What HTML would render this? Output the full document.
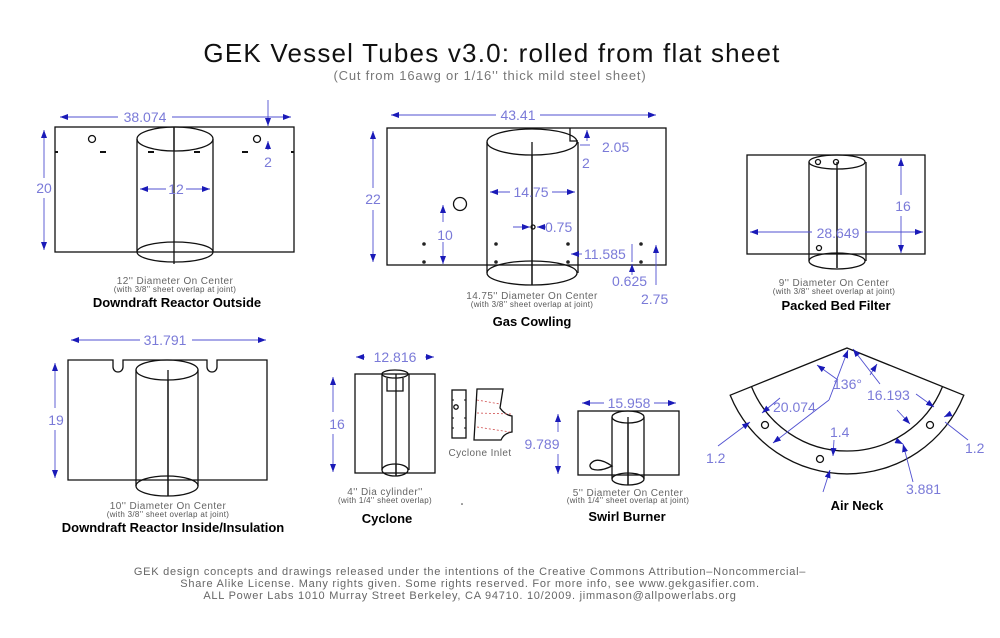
<!DOCTYPE html>
<html><head><meta charset="utf-8"><style>
html,body{margin:0;padding:0;background:#fff;width:1000px;height:638px;overflow:hidden}
svg{display:block}
text{font-family:"Liberation Sans",sans-serif}
.k{fill:none;stroke:#111;stroke-width:1.3}
.d{stroke:#5050d0;stroke-width:0.9;fill:none}
.dt{fill:#7a7ad8;font-size:14px}
.cap{fill:#666;font-size:10px;text-anchor:middle;letter-spacing:0.4px}
.cap2{fill:#555;font-size:8px;text-anchor:middle;letter-spacing:0.3px}
.ttl{fill:#000;font-size:13px;font-weight:bold;text-anchor:middle}
</style></head><body>
<svg width="1000" height="638" viewBox="0 0 1000 638" xmlns="http://www.w3.org/2000/svg">
<defs>
<marker id="a" markerWidth="8" markerHeight="6" refX="8" refY="3" orient="auto" markerUnits="userSpaceOnUse"><path d="M0,0 L8,3 L0,6 Z" fill="#1a1ab8"/></marker>
<marker id="b" markerWidth="8" markerHeight="6" refX="0" refY="3" orient="auto" markerUnits="userSpaceOnUse"><path d="M8,0 L0,3 L8,6 Z" fill="#1a1ab8"/></marker>
</defs>
<text x="492" y="62" text-anchor="middle" font-size="26" fill="#111" letter-spacing="1.2">GEK Vessel Tubes v3.0: rolled from flat sheet</text>
<text x="490" y="80" text-anchor="middle" font-size="13" fill="#777" letter-spacing="0.8">(Cut from 16awg or 1/16'' thick mild steel sheet)</text>

<!-- Panel 1 -->
<rect class="k" x="55" y="127" width="239" height="125"/>
<path class="k" d="M137,139 V252 M213,139 V252 M174,127 V264"/>
<ellipse class="k" cx="175" cy="139" rx="38" ry="12" fill="#fff"/>
<ellipse class="k" cx="175" cy="252" rx="38" ry="10"/>
<path d="M174,127 V151" class="k"/>
<circle class="k" cx="92" cy="139" r="3.5"/><circle class="k" cx="257" cy="139" r="3.5"/>
<path stroke="#111" stroke-width="2" d="M55,152h3 M100,152h6 M148,152h6 M194,152h6 M242,152h6 M291,152h3"/>
<line class="d" x1="60" y1="117" x2="118" y2="117" marker-start="url(#b)"/><line class="d" x1="172" y1="117" x2="291" y2="117" marker-end="url(#a)"/>
<text class="dt" x="145" y="122" text-anchor="middle">38.074</text>
<line class="d" x1="44" y1="130" x2="44" y2="178" marker-start="url(#b)"/><line class="d" x1="44" y1="198" x2="44" y2="250" marker-end="url(#a)"/>
<text class="dt" x="44" y="193" text-anchor="middle">20</text>
<line class="d" x1="140" y1="189" x2="166" y2="189" marker-start="url(#b)"/><line class="d" x1="186" y1="189" x2="210" y2="189" marker-end="url(#a)"/>
<text class="dt" x="176" y="194" text-anchor="middle">12</text>
<line class="d" x1="268" y1="100" x2="268" y2="126" marker-end="url(#a)"/>
<line class="d" x1="268" y1="150" x2="268" y2="141" marker-end="url(#a)"/>
<text class="dt" x="268" y="167" text-anchor="middle">2</text>
<text class="cap" x="175" y="284">12'' Diameter On Center</text>
<text class="cap2" x="175" y="292">(with 3/8'' sheet overlap at joint)</text>
<text class="ttl" x="177" y="307">Downdraft Reactor Outside</text>

<!-- Panel 2 -->
<rect class="k" x="387" y="128" width="279" height="137"/>
<path class="k" d="M487,142 V273 M578,142 V273 M532,142 V285"/>
<ellipse class="k" cx="532" cy="142" rx="45" ry="13" fill="#fff"/>
<ellipse class="k" cx="532" cy="273" rx="45" ry="12" fill="#fff"/>
<path class="k" d="M532,155 V285 M570,128 V141 H578"/>
<circle class="k" cx="460" cy="204" r="6.5"/>
<g fill="#222"><circle cx="424" cy="244" r="1.8"/><circle cx="424" cy="262" r="1.8"/><circle cx="496" cy="244" r="1.8"/><circle cx="496" cy="262" r="1.8"/><circle cx="568" cy="244" r="1.8"/><circle cx="568" cy="262" r="1.8"/><circle cx="641" cy="244" r="1.8"/><circle cx="641" cy="262" r="1.8"/></g>
<circle class="k" cx="533" cy="227" r="2"/>
<line class="d" x1="391" y1="115" x2="496" y2="115" marker-start="url(#b)"/><line class="d" x1="540" y1="115" x2="656" y2="115" marker-end="url(#a)"/>
<text class="dt" x="518" y="120" text-anchor="middle">43.41</text>
<line class="d" x1="373" y1="131" x2="373" y2="188" marker-start="url(#b)"/><line class="d" x1="373" y1="210" x2="373" y2="262" marker-end="url(#a)"/>
<text class="dt" x="373" y="204" text-anchor="middle">22</text>
<line class="d" x1="490" y1="192" x2="510" y2="192" marker-start="url(#b)"/><line class="d" x1="552" y1="192" x2="575" y2="192" marker-end="url(#a)"/>
<text class="dt" x="531" y="197" text-anchor="middle">14.75</text>
<line class="d" x1="443" y1="205" x2="443" y2="222" marker-start="url(#b)"/><line class="d" x1="443" y1="242" x2="443" y2="264" marker-end="url(#a)"/>
<text class="dt" x="445" y="240" text-anchor="middle">10</text>
<line class="d" x1="513" y1="227" x2="530" y2="227" marker-end="url(#a)"/><line class="d" x1="546" y1="227" x2="537" y2="227" marker-end="url(#a)"/>
<text class="dt" x="545" y="232">0.75</text>
<line class="d" x1="587" y1="130" x2="587" y2="141" marker-start="url(#b)"/>
<line class="d" x1="580" y1="145" x2="590" y2="145"/>
<text class="dt" x="602" y="152">2.05</text>
<text class="dt" x="582" y="168">2</text>
<line class="d" x1="571" y1="254" x2="582" y2="254" marker-start="url(#b)"/>
<text class="dt" x="584" y="259">11.585</text>
<line class="d" x1="632" y1="244" x2="632" y2="262" /><line class="d" x1="632" y1="275" x2="632" y2="264" marker-end="url(#a)"/>
<line class="d" x1="656" y1="245" x2="656" y2="262" marker-start="url(#b)"/><line class="d" x1="656" y1="262" x2="656" y2="285"/>
<text class="dt" x="612" y="286">0.625</text>
<text class="dt" x="641" y="304">2.75</text>
<text class="cap" x="532" y="299">14.75'' Diameter On Center</text>
<text class="cap2" x="532" y="307">(with 3/8'' sheet overlap at joint)</text>
<text class="ttl" x="532" y="326">Gas Cowling</text>

<!-- Panel 3 -->
<rect class="k" x="747" y="155" width="178" height="99"/>
<path class="k" d="M809,162 V261 M866,162 V261 M837,162 V268"/>
<ellipse class="k" cx="837" cy="162" rx="28" ry="7" fill="#fff"/>
<ellipse class="k" cx="837" cy="261" rx="28" ry="8" fill="#fff"/>
<path class="k" d="M837,169 V268"/>
<circle class="k" cx="818" cy="162" r="2.5"/><circle class="k" cx="836" cy="162" r="2.5"/><circle class="k" cx="819" cy="248" r="2.5"/>
<line class="d" x1="750" y1="232" x2="812" y2="232" marker-start="url(#b)"/><line class="d" x1="865" y1="232" x2="923" y2="232" marker-end="url(#a)"/>
<text class="dt" x="838" y="238" text-anchor="middle">28.649</text>
<line class="d" x1="901" y1="158" x2="901" y2="195" marker-start="url(#b)"/><line class="d" x1="901" y1="216" x2="901" y2="253" marker-end="url(#a)"/>
<text class="dt" x="903" y="211" text-anchor="middle">16</text>
<text class="cap" x="834" y="286">9'' Diameter On Center</text>
<text class="cap2" x="834" y="294">(with 3/8'' sheet overlap at joint)</text>
<text class="ttl" x="836" y="310">Packed Bed Filter</text>

<!-- Panel 4 -->
<path class="k" d="M68,360 H113 V367 A5,5 0 0 0 123,367 V360 H207 V367 A5,5 0 0 0 217,367 V360 H267 V480 H68 Z"/>
<path class="k" d="M136,370 V486 M198,370 V486 M168,370 V496"/>
<ellipse class="k" cx="167" cy="370" rx="31" ry="10" fill="#fff"/>
<ellipse class="k" cx="167" cy="486" rx="31" ry="10" fill="#fff"/>
<path class="k" d="M168,380 V496"/>
<line class="d" x1="71" y1="340" x2="140" y2="340" marker-start="url(#b)"/><line class="d" x1="192" y1="340" x2="266" y2="340" marker-end="url(#a)"/>
<text class="dt" x="165" y="345" text-anchor="middle">31.791</text>
<line class="d" x1="55" y1="363" x2="55" y2="408" marker-start="url(#b)"/><line class="d" x1="55" y1="430" x2="55" y2="478" marker-end="url(#a)"/>
<text class="dt" x="56" y="425" text-anchor="middle">19</text>
<text class="cap" x="168" y="509">10'' Diameter On Center</text>
<text class="cap2" x="168" y="517">(with 3/8'' sheet overlap at joint)</text>
<text class="ttl" x="173" y="532">Downdraft Reactor Inside/Insulation</text>

<!-- Panel 5 Cyclone -->
<rect class="k" x="355" y="374" width="80" height="99"/>
<path class="k" d="M382,374 V470 M409,374 V470 M396,374 V476"/>
<ellipse class="k" cx="395" cy="374" rx="13" ry="4" fill="#fff"/>
<ellipse class="k" cx="395" cy="470" rx="13" ry="6" fill="#fff"/>
<path class="k" d="M396,464 V476 M387,378 V391 H403 V378"/>
<line class="d" x1="356" y1="357" x2="365" y2="357" marker-start="url(#b)"/><line class="d" x1="425" y1="357" x2="434" y2="357" marker-end="url(#a)"/>
<text class="dt" x="395" y="362" text-anchor="middle">12.816</text>
<line class="d" x1="333" y1="377" x2="333" y2="412" marker-start="url(#b)"/><line class="d" x1="333" y1="434" x2="333" y2="472" marker-end="url(#a)"/>
<text class="dt" x="337" y="429" text-anchor="middle">16</text>
<rect class="k" x="452" y="390" width="14" height="48"/>
<circle class="k" cx="456" cy="407" r="2.2"/>
<path stroke="#111" stroke-width="1" d="M452,400h2 M464,400h2 M452,418h2 M464,418h2 M452,428h2 M464,428h2"/>
<path class="k" d="M477,389 H503 L500,408 Q505,415 512,416 V432 Q504,433 501,440 H474 Z"/>
<path stroke="#d05050" stroke-width="0.8" stroke-dasharray="2,2" d="M477,400 L500,404 M477,413 L512,414 M477,427 L510,432"/>
<text x="480" y="456" font-size="10" fill="#666" text-anchor="middle" letter-spacing="0.4">Cyclone Inlet</text>
<text class="cap" x="385" y="495">4'' Dia cylinder''</text>
<text class="cap2" x="385" y="503">(with 1/4'' sheet overlap)</text>
<text class="ttl" x="387" y="523">Cyclone</text>
<circle cx="462" cy="504" r="0.8" fill="#333"/>

<!-- Panel 6 Swirl -->
<rect class="k" x="578" y="411" width="101" height="64"/>
<path class="k" d="M612,417 V479 M644,417 V479 M628,417 V485"/>
<ellipse class="k" cx="628" cy="417" rx="16" ry="6" fill="#fff"/>
<ellipse class="k" cx="628" cy="479" rx="16" ry="6" fill="#fff"/>
<path class="k" d="M628,423 V485"/>
<path class="k" d="M612,466 Q600,458 594,461 Q587,465 592,469 Q600,472 612,466 Z"/>
<line class="d" x1="582" y1="403" x2="604" y2="403" marker-start="url(#b)"/><line class="d" x1="654" y1="403" x2="676" y2="403" marker-end="url(#a)"/>
<text class="dt" x="629" y="408" text-anchor="middle">15.958</text>
<line class="d" x1="558" y1="414" x2="558" y2="432" marker-start="url(#b)"/><line class="d" x1="558" y1="454" x2="558" y2="474" marker-end="url(#a)"/>
<text class="dt" x="542" y="449" text-anchor="middle">9.789</text>
<text class="cap" x="628" y="496">5'' Diameter On Center</text>
<text class="cap2" x="628" y="503">(with 1/4'' sheet overlap at joint)</text>
<text class="ttl" x="627" y="521">Swirl Burner</text>

<!-- Panel 7 Air Neck -->
<path class="k" d="M847,348 L963.8,395.2 A126,126 0 0 1 730.2,395.2 Z"/>
<path class="k" d="M942.5,386.6 A103,103 0 0 1 751.5,386.6"/>
<circle class="k" cx="765" cy="425" r="3.5"/><circle class="k" cx="930" cy="425" r="3.5"/><circle class="k" cx="820" cy="459" r="3.5"/>
<line class="d" x1="829" y1="400" x2="848" y2="350" marker-end="url(#a)"/>
<line class="d" x1="829" y1="400" x2="773" y2="443" marker-end="url(#a)"/>
<line class="d" x1="880" y1="384" x2="853" y2="349" marker-end="url(#a)"/>
<line class="d" x1="838" y1="380" x2="817" y2="365" marker-end="url(#a)"/>
<line class="d" x1="870" y1="375" x2="877" y2="364" marker-end="url(#a)"/>
<text class="dt" x="833" y="389">136°</text>
<text class="dt" x="773" y="412">20.074</text>
<text class="dt" x="867" y="400">16.193</text>
<line class="d" x1="897" y1="410" x2="910" y2="424" marker-end="url(#a)"/>
<line class="d" x1="916" y1="394" x2="934" y2="407" marker-end="url(#a)"/>
<line class="d" x1="946" y1="416" x2="944" y2="417" marker-end="url(#a)"/>
<line class="d" x1="968" y1="440" x2="945" y2="422"/>
<text class="dt" x="965" y="453">1.2</text>
<line class="d" x1="718" y1="446" x2="750" y2="422" marker-end="url(#a)"/>
<line class="d" x1="780" y1="398" x2="762" y2="413" marker-end="url(#a)"/>
<text class="dt" x="706" y="463">1.2</text>
<text class="dt" x="830" y="437">1.4</text>
<line class="d" x1="834" y1="440" x2="833" y2="456" marker-end="url(#a)"/>
<line class="d" x1="823" y1="492" x2="830" y2="470" marker-end="url(#a)"/>
<line class="d" x1="913" y1="482" x2="903" y2="444" marker-end="url(#a)"/>
<line class="d" x1="903" y1="444" x2="897" y2="441" marker-start="url(#b)"/>
<text class="dt" x="906" y="494">3.881</text>
<text class="ttl" x="857" y="510">Air Neck</text>

<!-- Footer -->
<g fill="#666" font-size="11" text-anchor="middle" letter-spacing="0.75">
<text x="470" y="575">GEK design concepts and drawings released under the intentions of the Creative Commons Attribution–Noncommercial–</text>
<text x="470" y="587">Share Alike License.  Many rights given.  Some rights reserved.   For more info, see www.gekgasifier.com.</text>
<text x="470" y="599">ALL Power Labs 1010 Murray Street Berkeley, CA 94710. 10/2009.  jimmason@allpowerlabs.org</text>
</g>
</svg>
</body></html>
